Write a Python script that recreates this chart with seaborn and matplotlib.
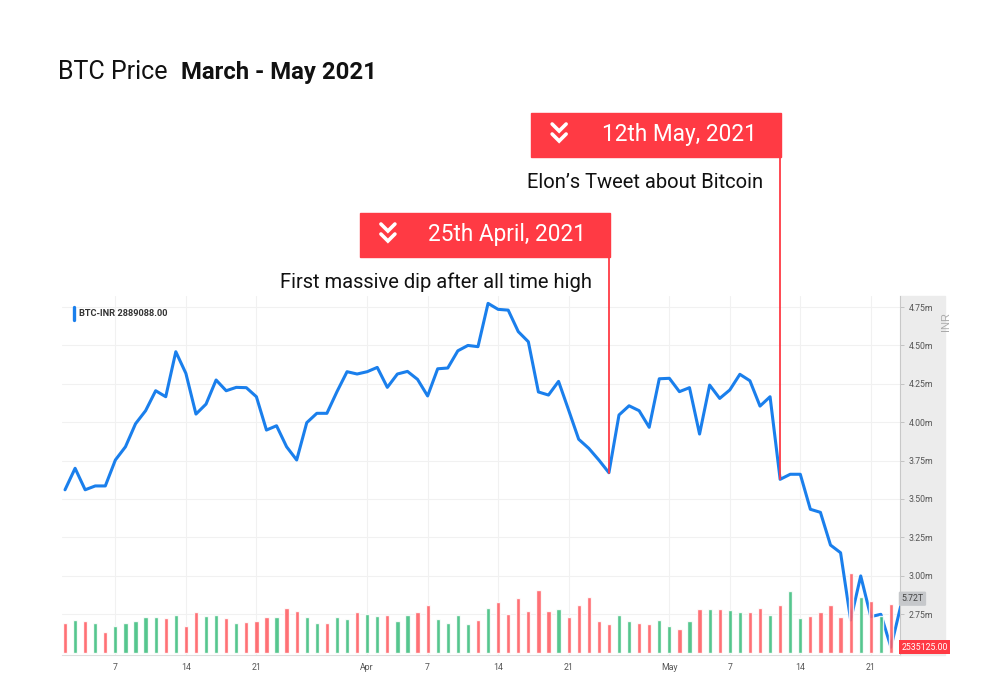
import matplotlib
matplotlib.use("Agg")
import matplotlib.pyplot as plt
import matplotlib.dates as mdates
from matplotlib.lines import Line2D
from matplotlib.patches import Rectangle
from matplotlib.ticker import FuncFormatter
import seaborn as sns
import pandas as pd

# daily BTC-INR close (millions), from 2 March 2021
start_date = "2021-03-02"
prices = [
    3.56, 3.70, 3.56, 3.585, 3.585, 3.754, 3.84, 3.99, 4.075, 4.205,
    4.166, 4.459, 4.318, 4.053, 4.118, 4.275, 4.205, 4.227, 4.225, 4.166,
    3.949, 3.977, 3.84, 3.754, 3.997, 4.058, 4.058, 4.199, 4.329, 4.314,
    4.329, 4.357, 4.227, 4.314, 4.331, 4.279, 4.171, 4.348, 4.353, 4.465,
    4.50, 4.492, 4.774, 4.735, 4.73, 4.59, 4.524, 4.197, 4.177, 4.266,
    4.079, 3.889, 3.83, 3.754, 3.671, 4.047, 4.107, 4.075, 3.967, 4.283,
    4.286, 4.199, 4.225, 3.923, 4.242, 4.155, 4.21, 4.312, 4.27, 4.105,
    4.166, 3.628, 3.661, 3.661, 3.433, 3.413, 3.20, 3.15, 2.712, 2.999,
    2.734, 2.749, 2.535, 2.81,
]
# daily volume (T)
volumes = [
    3.50, 3.89, 3.81, 3.57, 2.49, 3.22, 3.57, 3.74, 4.20, 4.20,
    4.12, 4.44, 3.22, 4.86, 4.35, 4.44, 4.12, 3.57, 3.65, 3.81,
    4.20, 4.20, 5.25, 4.97, 4.20, 3.50, 3.50, 4.27, 4.04, 4.86,
    4.59, 4.35, 4.44, 3.74, 4.51, 4.86, 5.68, 3.97, 3.54, 4.44,
    3.46, 3.89, 5.33, 5.95, 4.59, 6.42, 4.98, 7.35, 4.98, 5.13,
    4.20, 5.68, 6.57, 3.74, 3.46, 4.44, 3.74, 3.54, 3.46, 3.89,
    3.23, 2.84, 3.81, 5.13, 5.13, 5.13, 5.06, 4.86, 4.86, 5.33,
    4.51, 5.60, 7.27, 4.09, 4.35, 4.79, 5.60, 4.20, 9.41, 6.53,
    6.11, 4.35, 5.76,
]
# u = up day (green bar), d = down day (red bar)
direction = [
    "d", "u", "d", "u", "d", "u", "u", "u", "u", "u",
    "d", "u", "d", "d", "u", "u", "d", "u", "d", "d",
    "d", "u", "d", "d", "u", "u", "d", "u", "u", "d",
    "u", "u", "d", "u", "u", "d", "d", "u", "u", "u",
    "u", "d", "u", "d", "d", "d", "d", "d", "d", "u",
    "d", "d", "d", "d", "d", "u", "u", "d", "d", "u",
    "u", "d", "u", "d", "u", "d", "u", "u", "d", "d",
    "u", "d", "u", "u", "d", "d", "d", "d", "d", "u",
    "d", "u", "d",
]
tick_dates = ["2021-03-07", "2021-03-14", "2021-03-21", "2021-04-01",
              "2021-04-07", "2021-04-14", "2021-04-21", "2021-05-01",
              "2021-05-07", "2021-05-14", "2021-05-21"]
tick_labels = ["7", "14", "21", "Apr", "7", "14", "21", "May", "7", "14", "21"]
price_ticks = [2.75, 3.00, 3.25, 3.50, 3.75, 4.00, 4.25, 4.50, 4.75]

event_dates = ["2021-05-12", "2021-04-25"]
event_titles = ["12th May, 2021", "25th April, 2021"]
event_notes = ["Elon\u2019s Tweet about Bitcoin", "First massive dip after all time high"]

legend_value = "2889088.00"
last_price = 2.535
last_price_label = "2535125.00"
last_volume = 5.72
last_volume_label = "5.72T"

BLUE = "#1a7fec"
GREEN = "#3dbf7e"
RED_BAR = "#ff5c62"
RED = "#ff3a44"

W, H = 1000, 700


def fx(px):
    return px / W


def fy(py):
    return 1 - py / H


sns.set_theme(style="white")
plt.rcParams["font.family"] = ["Roboto", "DejaVu Sans"]

fig = plt.figure(figsize=(10, 7), dpi=100)
fig.patch.set_facecolor("white")

# grey right-hand axis panel
fig.add_artist(Rectangle((fx(900), fy(655)), fx(945) - fx(900), fy(296) - fy(655),
                         transform=fig.transFigure, color="#ececec", zorder=-1))

ax = fig.add_axes([fx(62), fy(655), fx(900) - fx(62), fy(296) - fy(655)])
ax2 = ax.twinx()

dates = pd.date_range(start_date, periods=len(prices), freq="D")
df = pd.DataFrame({"date": dates, "price": prices})
vol = pd.DataFrame({"date": dates[:len(volumes)], "volume": volumes, "dir": direction})

sns.lineplot(data=df, x="date", y="price", ax=ax, color=BLUE, linewidth=2.2)
ax2.bar(vol["date"], vol["volume"], width=0.42,
        color=[GREEN if d == "u" else RED_BAR for d in vol["dir"]], alpha=0.88)

d0 = mdates.date2num(dates[0])
ax.set_xlim(d0 - 0.3, d0 + 82.9)
ax.set_ylim(2.484, 4.822)
ax2.set_ylim(-0.2, 41.7)
ax2.set_yticks([])
for s in ax2.spines.values():
    s.set_visible(False)

ax.yaxis.tick_right()
ax.set_yticks(price_ticks)
ax.yaxis.set_major_formatter(FuncFormatter(lambda v, p: f"{v:.2f}m"))
ax.set_xticks(mdates.date2num(pd.to_datetime(tick_dates)))
ax.set_xticklabels(tick_labels)
ax.set_xlabel("")
ax.set_ylabel("")
ax.tick_params(axis="both", labelsize=6.3, colors="#555555", length=3, width=0.6)
ax.tick_params(axis="x", pad=3, color="#cccccc")
ax.tick_params(axis="y", pad=3, color="#bbbbbb")
ax.grid(True, color="#f1f1f1", linewidth=0.8)
ax.set_axisbelow(True)
for side in ["top", "left"]:
    ax.spines[side].set_visible(False)
ax.spines["right"].set_color("#c8c8c8")
ax.spines["bottom"].set_color("#dddddd")
ax.spines["right"].set_linewidth(0.8)
ax.spines["bottom"].set_linewidth(0.8)

ax.text(1.055, 0.93, "INR", transform=ax.transAxes, rotation=90, ha="center",
        va="center", fontsize=8, color="#aaaaaa", family=["Liberation Sans", "DejaVu Sans"])

# legend in top-left corner
fig.add_artist(Line2D([fx(73.5), fx(73.5)], [fy(307), fy(320)], color=BLUE,
                      linewidth=2.4, solid_capstyle="round"))
fig.text(fx(79), fy(313.5), "BTC-INR " + legend_value, fontsize=6.7, fontweight="bold",
         color="#333333", va="center", ha="left")

# right-hand value labels
ax.annotate(last_price_label, xy=(1.0, last_price), xycoords=("axes fraction", "data"),
            xytext=(1, 0), textcoords="offset points", ha="left", va="center",
            fontsize=6.3, color="white", annotation_clip=False,
            bbox=dict(boxstyle="square,pad=0.3", fc=RED, ec="none"))
ax2.annotate(last_volume_label, xy=(1.0, last_volume), xycoords=("axes fraction", "data"),
             xytext=(1, 4), textcoords="offset points", ha="left", va="center",
             fontsize=6.3, color="#444444", annotation_clip=False,
             bbox=dict(boxstyle="round,pad=0.3,rounding_size=0.15", fc="#c6c8cb", ec="none"))

# title
fig.text(fx(58), fy(72), "BTC Price", fontsize=18, color="#111111", va="center")
fig.text(fx(181), fy(72), "March - May 2021", fontsize=17.2, fontweight="bold",
         color="#111111", va="center")

# event callouts
box_tops = [113, 213]
box_w, box_h = 250, 44
for date, title, note, top in zip(event_dates, event_titles, event_notes, box_tops):
    dn = mdates.date2num(pd.Timestamp(date))
    price = df.loc[df["date"] == pd.Timestamp(date), "price"].iloc[0]
    px, py = ax.transData.transform((dn, price))
    py = H - py
    right = px + 1
    left = right - box_w
    bottom = top + box_h
    fig.add_artist(Rectangle((fx(left), fy(bottom)), box_w / W, box_h / H,
                             transform=fig.transFigure, color=RED, zorder=3))
    fig.add_artist(Line2D([fx(px), fx(px)], [fy(bottom), fy(py)], color=RED,
                          linewidth=1.3, zorder=3))
    cx = left + 28
    for t in (top + 11, top + 21):
        fig.add_artist(Line2D([fx(cx - 7), fx(cx), fx(cx + 7)],
                              [fy(t), fy(t + 7), fy(t)], color="white",
                              linewidth=2.6, solid_joinstyle="miter", zorder=4))
    fig.text(fx(right - 24), fy(top + box_h / 2), title, fontsize=16.3, color="white",
             ha="right", va="center", zorder=4)
    fig.text(fx(right - 18), fy(bottom + 25), note, fontsize=14.5, color="#111111",
             ha="right", va="center")

fig.savefig("out.png", dpi=100)
